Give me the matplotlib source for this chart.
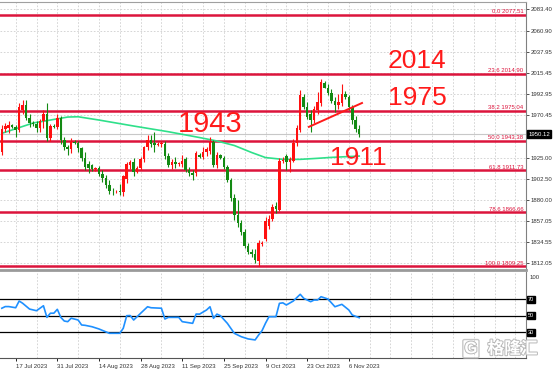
# XAUUSD daily chart with fib levels and RSI
import matplotlib.pyplot as plt
import matplotlib.patheffects as pe
import numpy as np

plt.rcParams['font.family'] = ['Liberation Sans', 'DejaVu Sans']

# --- data (daily candles incl. short Sunday bars, index 0 = 12 Jul 2023) ---
opens = [1931, 1956, 1957, 1960, 1958, 1955, 1976, 1981, 1968, 1962,
         1961, 1957, 1964, 1972, 1946, 1959, 1958, 1968, 1944, 1936,
         1934, 1942, 1941, 1935, 1925, 1918, 1917, 1913, 1914, 1908,
         1903, 1896, 1890, 1889, 1890, 1888, 1902, 1917, 1920, 1910,
         1914, 1924, 1936, 1944, 1941, 1939, 1940, 1940, 1927, 1917,
         1920, 1918, 1918, 1924, 1912, 1909, 1909, 1928, 1926, 1931,
         1932, 1942, 1917, 1928, 1925, 1915, 1901, 1882, 1864, 1855,
         1846, 1831, 1824, 1822, 1815, 1833, 1838, 1852, 1860, 1873,
         1869, 1922, 1927, 1921, 1922, 1941, 1955, 1990, 1979, 1972,
         1965, 1976, 1984, 2005, 2000, 1994, 1986, 1981, 1984, 1993,
         1990, 1979, 1965, 1956]
highs = [1960, 1962, 1964, 1961, 1960, 1984, 1987, 1987, 1972, 1964,
         1964, 1966, 1976, 1983, 1961, 1961, 1972, 1970, 1947, 1939,
         1946, 1944, 1943, 1937, 1931, 1922, 1918, 1915, 1916, 1912,
         1907, 1901, 1893, 1891, 1897, 1907, 1921, 1923, 1925, 1916,
         1926, 1938, 1949, 1949, 1952, 1942, 1943, 1943, 1930, 1924,
         1926, 1920, 1928, 1926, 1915, 1912, 1932, 1930, 1936, 1936,
         1947, 1944, 1931, 1929, 1927, 1917, 1903, 1886, 1880, 1858,
         1849, 1834, 1828, 1827, 1837, 1836, 1862, 1864, 1876, 1878,
         1925, 1926, 1929, 1926, 1945, 1960, 1997, 1993, 1985, 1976,
         1980, 1995, 2009, 2007, 2004, 1998, 1990, 1993, 2004, 1996,
         1992, 1981, 1970, 1960]
lows = [1928, 1952, 1951, 1957, 1947, 1953, 1972, 1965, 1958, 1959,
        1953, 1953, 1957, 1943, 1943, 1957, 1956, 1940, 1933, 1928,
        1930, 1940, 1931, 1922, 1912, 1909, 1911, 1911, 1905, 1899,
        1893, 1886, 1885, 1887, 1885, 1884, 1898, 1913, 1905, 1909,
        1912, 1921, 1933, 1937, 1931, 1938, 1936, 1924, 1915, 1913,
        1914, 1916, 1915, 1910, 1906, 1901, 1906, 1925, 1924, 1927,
        1929, 1915, 1914, 1924, 1913, 1899, 1879, 1858, 1851, 1843,
        1829, 1822, 1819, 1813, 1809.25, 1831, 1836, 1849, 1857, 1866,
        1868, 1919, 1912, 1910, 1920, 1938, 1952, 1977, 1966, 1953,
        1962, 1972, 1980, 1999, 1992, 1983, 1974, 1977, 1980, 1988,
        1976, 1961, 1953, 1947]
closes = [1956, 1959, 1960, 1958, 1955, 1979, 1981, 1968, 1962, 1961,
          1957, 1964, 1972, 1946, 1959, 1958, 1968, 1944, 1936, 1934,
          1942, 1941, 1935, 1925, 1915, 1914, 1913, 1914, 1908, 1903,
          1896, 1890, 1889, 1890, 1888, 1905, 1918, 1920, 1910, 1914,
          1924, 1936, 1944, 1940, 1939, 1940, 1941, 1927, 1917, 1920,
          1918, 1919, 1922, 1912, 1909, 1907, 1930, 1926, 1931, 1934,
          1942, 1917, 1928, 1925, 1915, 1901, 1882, 1864, 1855, 1846,
          1831, 1824, 1822, 1816, 1834, 1834, 1857, 1860, 1872, 1870,
          1922, 1923, 1921, 1924, 1941, 1957, 1992, 1979, 1969, 1965,
          1977, 1985, 2006, 2000, 1994, 1986, 1981, 1985, 1993, 1990,
          1979, 1965, 1956, 1950.12]

ma_idx = [0, 9, 19, 22, 28, 38, 48, 57, 62, 67, 72, 76, 81, 86, 91, 95, 103]
ma_val = [1951.1, 1962.1, 1968.5, 1968.8, 1965.3, 1958.9, 1952.8, 1946.6, 1942.9,
          1938.1, 1930.6, 1925.2, 1923.3, 1923.3, 1924.4, 1925.4, 1926.8]

rsi_idx = [0, 1, 2, 4, 5, 6, 8, 10, 12, 13, 14, 15, 16, 17, 18, 19, 20, 22, 23, 24,
           26, 28, 31, 34, 35, 36, 37, 38, 40, 42, 43, 46, 47, 48, 51, 52, 55, 56, 57,
           59, 60, 61, 62, 63, 65, 67, 69, 71, 73, 74, 75, 76, 77, 79, 80, 81, 82, 84,
           86, 87, 89, 90, 91, 92, 94, 96, 98, 100, 101, 103]
rsi_val = [59, 61, 61, 59.6, 67.7, 65, 58, 56, 62, 48, 53, 53, 57.7, 48, 43.6, 42.8,
           47, 44.8, 38.8, 38.4, 36.7, 34, 28.8, 28.8, 34.8, 50, 50.2, 44.8, 52.9, 60.8,
           59.6, 59, 46, 48, 48, 42.8, 40.8, 52, 51.9, 56.9, 60.8, 46.9, 51.9, 50, 40.8,
           28.8, 24.7, 22, 20.8, 26.7, 32, 41, 48.8, 48.8, 64.9, 65.5, 62.9, 67.7, 75.8,
           71, 66.9, 68.9, 68.9, 72.9, 70.1, 60.8, 63.7, 56.9, 50.8, 47.6]

fib_pct = ['0.0', '23.6', '38.2', '50.0', '61.8', '78.6', '100.0']
fib_price = [2077.51, 2014.90, 1975.04, 1943.38, 1911.73, 1866.66, 1809.25]

# 1947.95 sits behind the last-price box, so it is left out
price_ticks = [2083.40, 2060.90, 2037.95, 2015.45, 1992.95, 1970.45,
               1925.00, 1902.50, 1880.00, 1857.05, 1834.55, 1812.05]
last_price = 1950.12

date_pos = [4, 16, 28, 40, 52, 64, 76, 88, 100]
date_labels = ['17 Jul 2023', '31 Jul 2023', '14 Aug 2023', '28 Aug 2023',
               '11 Sep 2023', '25 Sep 2023', '9 Oct 2023', '23 Oct 2023', '6 Nov 2023']

trend_x = [88.5, 103.8]
trend_y = [1958.0, 1983.5]

big_text = ['2014', '1975', '1943', '1911']
big_x = [111.3, 111.3, 50.8, 94.6]
big_y = [2028.4, 1988.8, 1961.0, 1924.7]
big_size = [19, 19, 21, 19]

# --- figure ---
fig = plt.figure(figsize=(5.54, 3.69), dpi=100)
ax = fig.add_axes([0, 0.2683, 0.9495, 0.7263])
ax2 = fig.add_axes([0, 0.0298, 0.9495, 0.2331])

xlim = (-0.52, 151.07)
weekly = np.arange(4, 152, 6)
grid_kw = dict(color='#cfcfcf', lw=0.6, ls=(0, (2, 2)))

# main price panel
ax.set_xlim(*xlim)
ax.set_ylim(1805.1, 2091.4)
ax.set_xticks(weekly)
ax.tick_params(axis='x', length=0, labelbottom=False)
ax.grid(True, **grid_kw)
ax.set_axisbelow(True)
ax.yaxis.tick_right()
ax.set_yticks(price_ticks)
ax.set_yticklabels([f'{v:.2f}' for v in price_ticks])
ax.tick_params(axis='y', length=2, width=0.6, pad=1.5, labelsize=4.3, colors='#333333')
ax.spines['left'].set_visible(False)
ax.spines['top'].set_color('#a0a0a0')
ax.spines['right'].set_color('#808080')
ax.spines['bottom'].set_color('#9a9a9a')
ax.spines['bottom'].set_linewidth(2)

# fib levels
for pct, p in zip(fib_pct, fib_price):
    ax.axhline(p, color='#dc143c', lw=1.8, zorder=2)
    ax.text(150.3, p + 0.6, f'{pct} {p:.2f}', ha='right', va='bottom',
            fontsize=4.3, color='#dc143c', zorder=3)

# bid line
ax.axhline(last_price, color='#c8c8c8', lw=0.8, zorder=1)

# moving average
ax.plot(ma_idx, ma_val, color='#2fe08a', lw=1.2, zorder=3)

# candles
idx = np.arange(len(opens))
o = np.array(opens, float)
c = np.array(closes, float)
up = c >= o
body_lo = np.minimum(o, c)
body_h = np.maximum(np.abs(c - o), 0.9)
col_up, col_dn = '#ff1010', '#138a13'
colors = np.where(up, col_up, col_dn)
ax.vlines(idx, lows, highs, colors=colors, lw=0.8, zorder=4)
ax.bar(idx, body_h, bottom=body_lo, width=0.72, color=colors, lw=0, zorder=5)

# trend line
ax.plot(trend_x, trend_y, color='#ff1a1a', lw=1.4, zorder=6)

# big labels
for t, x, y, fs in zip(big_text, big_x, big_y, big_size):
    ax.text(x, y, t, fontsize=fs, color='#ff1a1a', ha='left', va='center', zorder=7)

# last price box
ax.text(1.004, last_price, f'{last_price:.2f}', transform=ax.get_yaxis_transform(),
        ha='left', va='center', fontsize=4.3, color='white', zorder=10,
        bbox=dict(boxstyle='square,pad=0.25', fc='black', ec='black'), clip_on=False)

# RSI panel
ax2.set_xlim(*xlim)
ax2.set_ylim(-1, 102.7)
ax2.set_xticks(weekly, minor=True)
ax2.grid(True, which='minor', axis='x', **grid_kw)
ax2.set_axisbelow(True)
ax2.set_xticks(date_pos)
ax2.set_xticklabels(date_labels, ha='left', fontsize=4.3, color='#333333')
ax2.tick_params(axis='x', which='major', length=2.5, width=0.6, pad=1.5)
ax2.tick_params(axis='x', which='minor', length=0)
ax2.set_yticks([])
for s in ['left', 'top']:
    ax2.spines[s].set_visible(False)
ax2.spines['right'].set_color('#808080')
ax2.spines['bottom'].set_color('#555555')
ax2.spines['bottom'].set_linewidth(0.8)
for lvl in [70, 50, 30]:
    ax2.axhline(lvl, color='black', lw=0.9, zorder=2)
    ax2.text(1.004, lvl, str(lvl), transform=ax2.get_yaxis_transform(),
             ha='left', va='center', fontsize=4, color='white', clip_on=False,
             bbox=dict(boxstyle='square,pad=0.2', fc='black', ec='black'))
ax2.text(1.006, 96, '100', transform=ax2.get_yaxis_transform(), ha='left',
         va='center', fontsize=4.3, color='#333333', clip_on=False)
ax2.plot(rsi_idx, rsi_val, color='#1e90ff', lw=1.2, zorder=3)

# watermark
fig.text(0.925, 0.055, '格隆汇', fontsize=12, color='white', ha='center', va='center',
         family=['Noto Sans CJK SC', 'DejaVu Sans'], weight='bold',
         path_effects=[pe.withStroke(linewidth=1.4, foreground='#b8b8b8')])
fig.text(0.85, 0.055, 'G', fontsize=12, color='white', ha='center', va='center',
         weight='bold', path_effects=[pe.withStroke(linewidth=1.4, foreground='#b8b8b8')],
         bbox=dict(boxstyle='round,pad=0.1', fc='none', ec='#c8c8c8', lw=1))

fig.savefig('out.png', dpi=100)
